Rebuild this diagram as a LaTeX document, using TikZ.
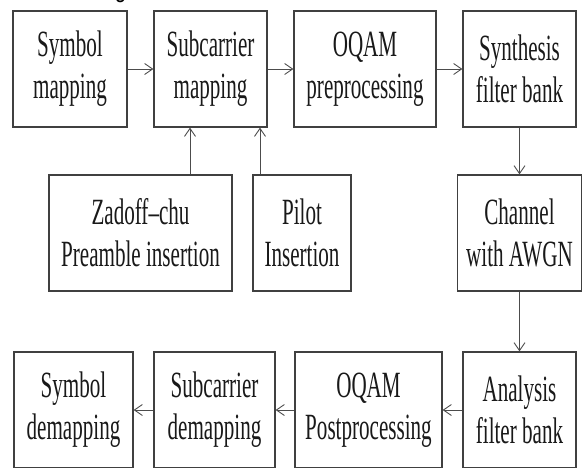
\documentclass[tikz,border=0pt]{standalone}
\usepackage{fontspec}
\setmainfont{Liberation Serif}[FakeStretch=0.57]
\usetikzlibrary{arrows.meta}
\tikzset{
  blk/.style={draw=black!75, line width=1.25pt, minimum height=116pt, inner sep=0pt, align=center,
    font=\fontsize{37}{42}\selectfont, text=black!90},
  arr/.style={draw=black!70, line width=0.9pt, -{Straight Barb[length=8pt,width=11pt,line width=0.9pt]}}
}
\begin{document}
\begin{tikzpicture}[x=1pt,y=-1pt]
\useasboundingbox (0,0) rectangle (582,467);
\node[anchor=base west, inner sep=0pt, font=\fontsize{33}{40}\selectfont\bfseries] (title) at (40,-5) {Block diagram:};
% top row
\node[blk, minimum width=114pt] (sm)  at (70,69)    {Symbol\\mapping};
\node[blk, minimum width=113pt] (scm) at (210.5,69) {Subcarrier\\mapping};
\node[blk, minimum width=142pt] (oq)  at (365,69)   {OQAM\\preprocessing};
\node[blk, minimum width=113pt] (sfb) at (519.5,69) {Synthesis\\filter bank};
% middle row
\node[blk, minimum width=183pt] (zc) at (140.5,233) {Zadoff–chu\\Preamble insertion};
\node[blk, minimum width=98pt]  (pi) at (302,233)   {Pilot\\Insertion};
\node[blk, minimum width=124pt] (ch) at (519.5,233) {Channel\\with AWGN};
% bottom row
\node[blk, minimum width=119pt] (sd)  at (73.5,410)  {Symbol\\demapping};
\node[blk, minimum width=121pt] (scd) at (214.5,410) {Subcarrier\\demapping};
\node[blk, minimum width=147pt] (op)  at (368.5,410) {OQAM\\Postprocessing};
\node[blk, minimum width=113pt] (afb) at (519.5,410) {Analysis\\filter bank};
% connectors
\draw[arr] (sm) -- (scm);
\draw[arr] (scm) -- (oq);
\draw[arr] (oq) -- (sfb);
\draw[arr] ([xshift=49.5pt]zc.north) -- ([xshift=49.5pt]zc.north |- scm.south);
\draw[arr] ([xshift=-42pt]pi.north) -- ([xshift=-42pt]pi.north |- scm.south);
\draw[arr] (sfb.south) -- (sfb.south |- ch.north);
\draw[arr] (ch.south) -- (ch.south |- afb.north);
\draw[arr] (afb) -- (op);
\draw[arr] (op) -- (scd);
\draw[arr] (scd) -- (sd);
\end{tikzpicture}
\end{document}
